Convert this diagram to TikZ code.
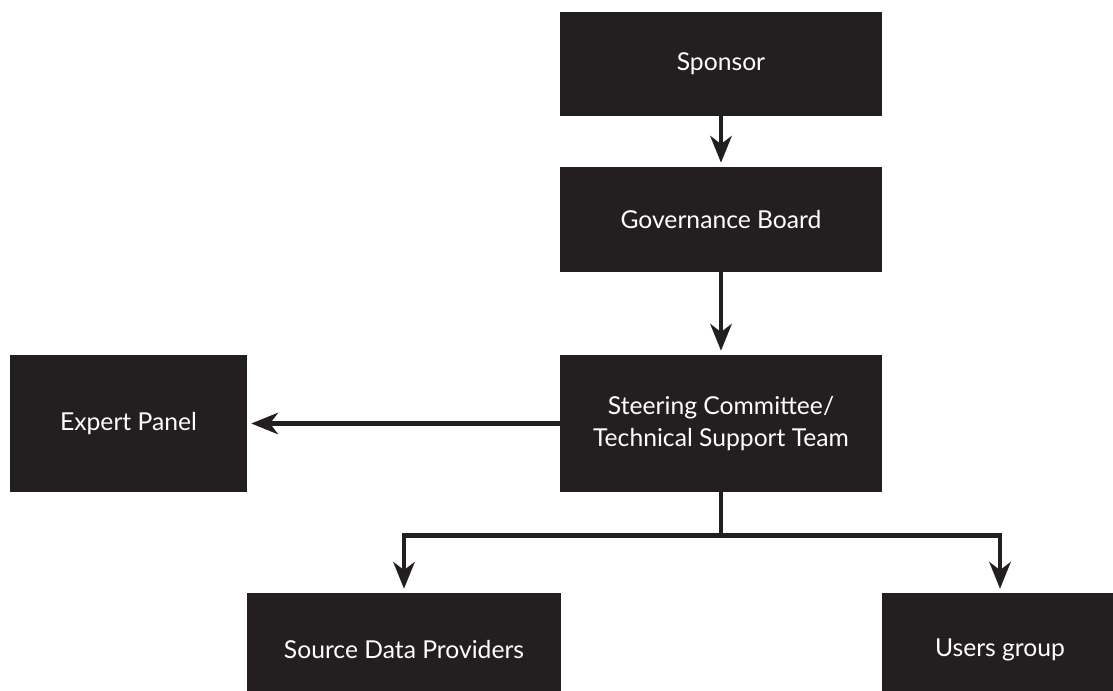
\documentclass[tikz,border=0pt]{standalone}
\usepackage{fontspec}
\setmainfont{Lato}
\usepackage{xcolor}
\usetikzlibrary{arrows.meta}
\definecolor{boxfill}{RGB}{35, 31, 32}

\begin{document}
\begin{tikzpicture}[x=0.75pt,y=0.75pt,yscale=-1,xscale=1,
  blk/.style={fill=boxfill, text=white, inner sep=0pt, align=center,
    font=\fontsize{18.5}{24}\selectfont},
  arr/.style={line width=3.6pt, draw=boxfill,
    -{Stealth[length=20pt,width=16pt,inset=6pt]}, shorten >=3pt}]
\useasboundingbox (0,0) rectangle (1113,690);

% Boxes
\node [blk, minimum width=241.5pt, minimum height=78pt] (sponsor) at (721,64) {Sponsor};
\node [blk, minimum width=241.5pt, minimum height=78.75pt] (board) at (721,219.5) {Governance Board};
\node [blk, minimum width=241.5pt, minimum height=102.75pt] (steer) at (721,423.5) {Steering Committee/\\Technical Support Team};
\node [blk, minimum width=177.75pt, minimum height=102.75pt] (panel) at (128.5,423.5) {Expert Panel};
\node [blk, minimum width=235.5pt, minimum height=85.5pt] (source) at (404,650) {Source Data Providers};
\node [blk, minimum width=177pt, minimum height=85.5pt] (users) at (1000,650) {Users group};

% Connectors
\draw [arr] (sponsor) -- (board);
\draw [arr] (board) -- (steer);
\draw [arr] (steer) -- (panel);
\path (steer.south) ++(0,43) coordinate (fork);
\draw [line width=3.6pt, draw=boxfill] (steer.south) -- (fork);
\draw [arr] (fork) -| (source);
\draw [arr] (fork) -| (users);

\end{tikzpicture}
\end{document}
